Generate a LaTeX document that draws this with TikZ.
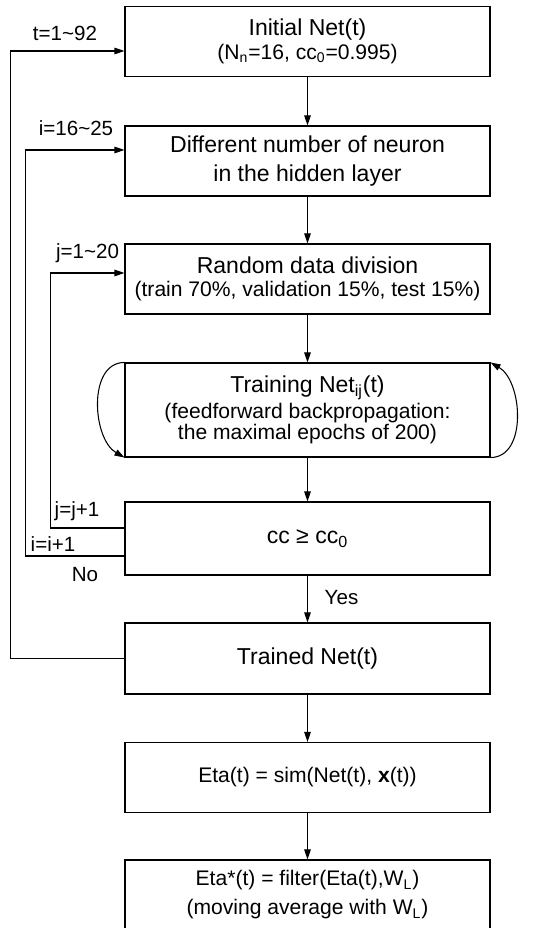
\documentclass[tikz,border=0pt]{standalone}
\usepackage{fontspec}
\setmainfont{Liberation Sans}
\usetikzlibrary{arrows.meta,positioning,calc}

\newcommand{\ttl}{\fontsize{13.1}{14}\selectfont}
\newcommand{\sml}{\fontsize{12}{14}\selectfont}

\tikzset{
	box/.style={draw, line width=0.6pt, minimum width=7.3cm, minimum height=1.40cm, align=center, inner sep=1pt},
	arr/.style={line width=0.6pt, -{Triangle[length=2mm,width=1.3mm]}},
	lbl/.style={font=\fontsize{11.7}{13}\selectfont, inner sep=0pt}
}

\begin{document}
\begin{tikzpicture}
	\useasboundingbox (0,0) rectangle (10.86,18.56);
	% main column
	\node[box] (init) at (6.15,17.73) {\ttl Initial Net(t)\\[1.5pt] \sml (N\textsubscript{n}=16, cc\textsubscript{0}=0.995)};
	\node[box] (neuron) at (6.15,15.34) {\ttl Different number of neuron\\[4.5pt] \ttl in the hidden layer};
	\node[box] (divide) at (6.15,12.98) {\ttl Random data division\\[1pt] \sml (train 70\%, validation 15\%, test 15\%)};
	\node[box, minimum height=1.88cm] (train) at (6.15,10.36) {\ttl Training Net\textsubscript{ij}(t)\\[1pt] \sml (feedforward backpropagation:\\ \sml the maximal epochs of 200)};
	\node[box, minimum height=1.46cm] (cc) at (6.15,7.79) {\ttl cc ≥ cc\textsubscript{0}};
	\node[box, minimum height=1.42cm] (trained) at (6.15,5.39) {\ttl Trained Net(t)};
	\node[box] (sim) at (6.15,3.01) {\sml Eta(t) = sim(Net(t), \textbf{x}(t))};
	\node[box] (filt) at (6.15,0.66) {\sml Eta*(t) = filter(Eta(t),W\textsubscript{L})\\[4.5pt] \sml (moving average with W\textsubscript{L})};

	\draw[arr] (init) -- (neuron);
	\draw[arr] (neuron) -- (divide);
	\draw[arr] (divide) -- (train);
	\draw[arr] (train) -- (cc);
	\draw[arr] (cc) -- (trained);
	\draw[arr] (trained) -- (sim);
	\draw[arr] (sim) -- (filt);

	% self loop of the training
	\draw[arr] (train.north west) to[out=180,in=150] (train.south west);
	\draw[arr] (train.south east) to[out=0,in=-30] (train.north east);

	% outer loops
	\coordinate (tin) at ([yshift=-0.19cm]init.west);
	\coordinate (iin) at ([yshift=0.22cm]neuron.west);
	\coordinate (jin) at ([yshift=0.12cm]divide.west);
	\coordinate (jout) at ([yshift=0.21cm]cc.west);
	\coordinate (iout) at ([yshift=-0.35cm]cc.west);
	\draw[arr] (trained.west) -- ++(-2.27,0) |- (tin);
	\draw[arr] (iout) -- ++(-1.97,0) |- (iin);
	\draw[arr] (jout) -- ++(-1.48,0) |- (jin);

	\node[lbl] (tlab) at (1.30,17.90) {t=1\textasciitilde 92};
	\node[lbl] (ilab) at (1.52,16.00) {i=16\textasciitilde 25};
	\node[lbl] (jlab) at (1.75,13.50) {j=1\textasciitilde 20};
	\node[lbl] (jinc) at (1.54,8.34) {j=j+1};
	\node[lbl] (iinc) at (1.06,7.68) {i=i+1};
	\node[lbl] (no) at (1.70,7.06) {No};
	\node[lbl] (yes) at (6.83,6.60) {Yes};
\end{tikzpicture}
\end{document}
